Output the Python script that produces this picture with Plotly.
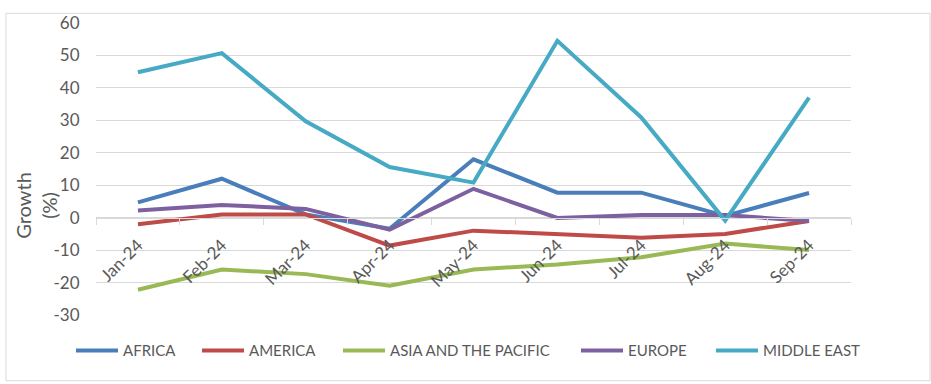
import plotly.graph_objects as go

months = ["Jan-24", "Feb-24", "Mar-24", "Apr-24", "May-24", "Jun-24", "Jul-24", "Aug-24", "Sep-24"]
africa = [4.7, 12.0, 1.0, -3.4, 18.0, 7.7, 7.7, 0.5, 7.6]
america = [-2.0, 1.0, 1.0, -8.6, -4.0, -5.0, -6.2, -5.0, -1.0]
asia_pacific = [-22.2, -16.0, -17.4, -21.0, -16.0, -14.4, -12.2, -8.0, -10.0]
europe = [2.2, 3.9, 2.7, -3.7, 8.9, -0.1, 0.8, 0.8, -1.0]
middle_east = [44.8, 50.7, 29.7, 15.6, 10.8, 54.5, 30.9, -0.9, 37.0]

y_ticks = [-30, -20, -10, 0, 10, 20, 30, 40, 50, 60]
y_tick_text = ["-30", "-20", "-10", "0", "10", "20", "30", "40", "50", "60"]

series = [
    ("AFRICA", africa, "#4a7ebb"),
    ("AMERICA", america, "#be4b48"),
    ("ASIA AND THE PACIFIC", asia_pacific, "#98b954"),
    ("EUROPE", europe, "#7d60a0"),
    ("MIDDLE EAST", middle_east, "#46aac5"),
]
legend_left_px = [77, 203, 344, 582, 717]

FONT = "Lato"
TXT = "#595959"
GRID = "#d9d9d9"

W, H = 931, 384
L, R, T, B = 96, 80, 13, 69
pw, ph = W - L - R, H - T - B

def px_x(p):
    return (p - L) / pw

def px_y(p):
    return (H - B - p) / ph

fig = go.Figure()
legend_layout = {}
for i, ((name, vals, col), lx) in enumerate(zip(series, legend_left_px)):
    key = "legend" if i == 0 else f"legend{i + 1}"
    fig.add_trace(go.Scatter(
        x=months, y=vals, name=name, mode="lines", legend=key,
        line=dict(color=col, width=4, shape="linear"),
    ))
    legend_layout[key] = dict(
        orientation="h", x=px_x(lx - 6), xanchor="left", y=px_y(352), yanchor="middle",
        font=dict(family=FONT, size=15, color=TXT), itemwidth=42,
        bgcolor="rgba(0,0,0,0)", borderwidth=0,
    )

fig.update_layout(
    width=W, height=H,
    margin=dict(l=L, r=R, t=T, b=B, pad=0),
    paper_bgcolor="white", plot_bgcolor="white",
    font=dict(family=FONT, size=16, color=TXT),
    showlegend=True,
    xaxis=dict(type="category", range=[-0.5, 8.5], showgrid=False,
               anchor="free", position=30 / 90,
               showline=True, linecolor=GRID, linewidth=1,
               ticks="outside", tickson="boundaries", ticklen=6, tickcolor=GRID,
               tickangle=-45, ticklabelstandoff=10,
               tickfont=dict(family=FONT, size=17, color=TXT)),
    yaxis=dict(range=[-30, 60], tickvals=y_ticks, ticktext=y_tick_text,
               showgrid=True, gridcolor=GRID, gridwidth=1,
               zeroline=False, showline=False,
               ticks="outside", ticklen=12, tickcolor="rgba(0,0,0,0)",
               tickfont=dict(family=FONT, size=17, color=TXT)),
    annotations=[dict(text="Growth<br>(%)", textangle=-90, xref="paper", yref="paper",
                      x=px_x(36), y=px_y(202), xanchor="center", yanchor="middle",
                      showarrow=False,
                      font=dict(family=FONT, size=20, color=TXT))],
    shapes=[dict(type="rect", xref="paper", yref="paper",
                 x0=px_x(6), x1=px_x(930), y0=px_y(383), y1=px_y(3),
                 line=dict(color=GRID, width=1), fillcolor="rgba(0,0,0,0)", layer="below")],
    **legend_layout,
)

fig.write_html("out.html")
